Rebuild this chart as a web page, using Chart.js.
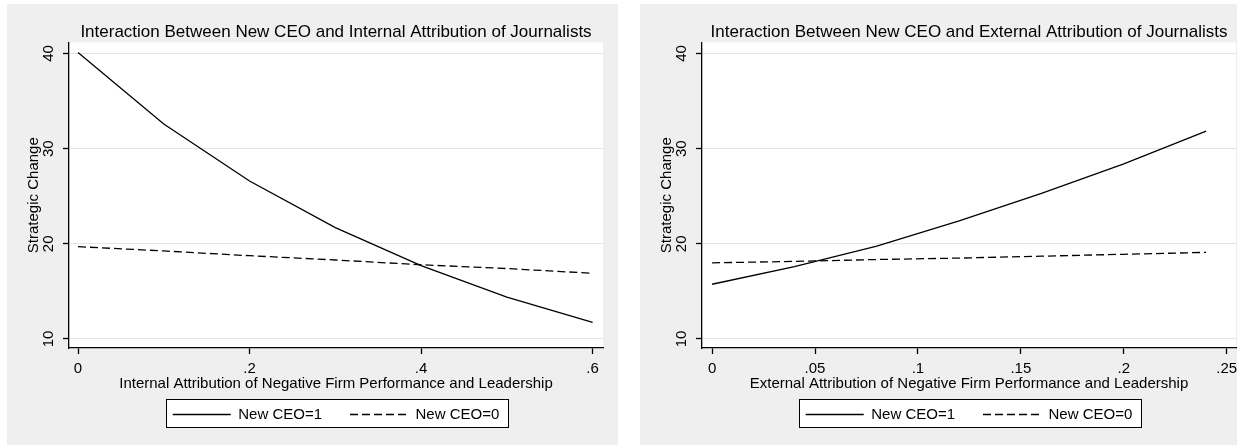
<!DOCTYPE html>
<html>
<head>
<meta charset="utf-8">
<title>New CEO and attribution of journalists</title>
<script src="https://cdn.jsdelivr.net/npm/chart.js@4/dist/chart.umd.min.js"></script>
<style>
  html, body { margin: 0; padding: 0; background: #fff; overflow: hidden; }
  body { width: 1237px; height: 446px; position: relative; }
  .panel { position: absolute; top: 4px; width: 611px; height: 441px; background: #efefef; }
  #leftPanel { left: 7px; }
  #rightPanel { left: 640px; }
</style>
</head>
<body>
<div class="panel" id="leftPanel"><canvas id="leftChart" width="611" height="441"></canvas></div>
<div class="panel" id="rightPanel"><canvas id="rightChart" width="611" height="441"></canvas></div>
<script>
// values
const seriesLabels = ["New CEO=1", "New CEO=0"];
const yTicks = [10, 20, 30, 40];

const internalX = [0, 0.1, 0.2, 0.3, 0.4, 0.5, 0.6];
const internalNewCeo1 = [40.1, 32.6, 26.6, 21.7, 17.7, 14.4, 11.75];
const internalNewCeo0 = [19.7, 19.25, 18.75, 18.3, 17.8, 17.4, 16.9];
const internalTicks = [0, 0.2, 0.4, 0.6];

const externalX = [0, 0.04, 0.08, 0.12, 0.16, 0.2, 0.24];
const externalNewCeo1 = [15.75, 17.6, 19.75, 22.4, 25.3, 28.4, 31.85];
const externalNewCeo0 = [18.0, 18.15, 18.35, 18.5, 18.7, 18.9, 19.1];
const externalTicks = [0, 0.05, 0.1, 0.15, 0.2, 0.25];

Chart.defaults.font.family = '"Liberation Sans", Arial, sans-serif';
Chart.defaults.color = "#000";

// white plot region + framed legend, like Stata's s2color scheme
const stataFrame = {
  id: "stataFrame",
  beforeDraw(chart) {
    const ctx = chart.ctx;
    const area = chart.chartArea;
    ctx.save();
    ctx.fillStyle = "#fff";
    ctx.fillRect(area.left, area.top, area.right - area.left, area.bottom - area.top);
    const boxes = chart.legend.legendHitBoxes;
    if (boxes && boxes.length) {
      const first = boxes[0];
      const last = boxes[boxes.length - 1];
      const x0 = Math.round(first.left - 7) + 0.5;
      const x1 = Math.round(last.left + last.width + 9) + 0.5;
      const y0 = Math.round(first.top - 8) + 0.5;
      const y1 = Math.round(first.top + first.height + 5) + 0.5;
      ctx.fillRect(x0, y0, x1 - x0, y1 - y0);
      ctx.strokeStyle = "#000";
      ctx.lineWidth = 1;
      ctx.strokeRect(x0, y0, x1 - x0, y1 - y0);
    }
    ctx.restore();
  },
};

function toPoints(xs, ys) {
  return xs.map((x, i) => ({ x: x, y: ys[i] }));
}

function tickText(v) {
  return v === 0 ? "0" : String(v).replace(/^0\./, ".");
}

function makeChart(id, title, xTitle, xs, newCeo1, newCeo0, xTicks, xMin, xMax) {
  return new Chart(document.getElementById(id), {
    type: "line",
    data: {
      datasets: [
        {
          label: seriesLabels[0],
          data: toPoints(xs, newCeo1),
          borderColor: "#000",
          backgroundColor: "#000",
          borderWidth: 1.3,
          pointRadius: 0,
          tension: 0,
          fill: false,
        },
        {
          label: seriesLabels[1],
          data: toPoints(xs, newCeo0),
          borderColor: "#000",
          backgroundColor: "#000",
          borderWidth: 1.3,
          borderDash: [8, 4],
          pointRadius: 0,
          tension: 0,
          fill: false,
        },
      ],
    },
    options: {
      responsive: false,
      animation: false,
      devicePixelRatio: 1,
      layout: { padding: { left: 0, right: 15, top: 0, bottom: 13 } },
      plugins: {
        title: {
          display: true,
          text: title,
          fullSize: false,
          color: "#000",
          font: { size: 17, weight: "normal" },
          padding: { top: 18, bottom: 0 },
        },
        legend: {
          position: "bottom",
          fullSize: false,
          labels: {
            usePointStyle: true,
            pointStyle: "line",
            pointStyleWidth: 58,
            padding: 28,
            color: "#000",
            font: { size: 15 },
            generateLabels(chart) {
              const items = Chart.defaults.plugins.legend.labels.generateLabels(chart);
              items.forEach((item) => {
                const ds = chart.data.datasets[item.datasetIndex];
                item.lineDash = ds.borderDash || [];
                item.lineWidth = ds.borderWidth;
                item.strokeStyle = ds.borderColor;
              });
              return items;
            },
          },
        },
        tooltip: { enabled: false },
      },
      scales: {
        x: {
          type: "linear",
          min: xMin,
          max: xMax,
          afterFit: (s) => { s.height = 31; },
          afterBuildTicks: (s) => { s.ticks = xTicks.map((v) => ({ value: v })); },
          border: { display: true, color: "#000", width: 1.3 },
          grid: { drawOnChartArea: false, drawTicks: true, tickLength: 6, tickColor: "#000", tickWidth: 1.3 },
          ticks: { color: "#000", font: { size: 15 }, padding: 6, maxRotation: 0, callback: (v) => tickText(v) },
          title: { display: true, text: xTitle, color: "#000", font: { size: 15 }, padding: { top: 0, bottom: -13.5 } },
        },
        y: {
          min: 9.05,
          max: 41.17,
          afterFit: (s) => { s.width = 62; },
          afterBuildTicks: (s) => { s.ticks = yTicks.map((v) => ({ value: v })); },
          border: { display: true, color: "#000", width: 1.3 },
          grid: { color: "#e4e4e4", lineWidth: 1, drawTicks: true, tickLength: 6, tickColor: "#000", tickWidth: 1.3 },
          ticks: { color: "#000", font: { size: 15 }, padding: 6, minRotation: 90, maxRotation: 90, crossAlign: "center" },
          title: { display: true, text: "Strategic Change", color: "#000", font: { size: 15 }, padding: { top: 18, bottom: 0 } },
        },
      },
    },
    plugins: [stataFrame],
  });
}

makeChart(
  "leftChart",
  "Interaction Between New CEO and Internal Attribution of Journalists",
  "Internal Attribution of Negative Firm Performance and Leadership",
  internalX, internalNewCeo1, internalNewCeo0, internalTicks, -0.0105, 0.6121
);

makeChart(
  "rightChart",
  "Interaction Between New CEO and External Attribution of Journalists",
  "External Attribution of Negative Firm Performance and Leadership",
  externalX, externalNewCeo1, externalNewCeo0, externalTicks, -0.0049, 0.2545
);
</script>
</body>
</html>
